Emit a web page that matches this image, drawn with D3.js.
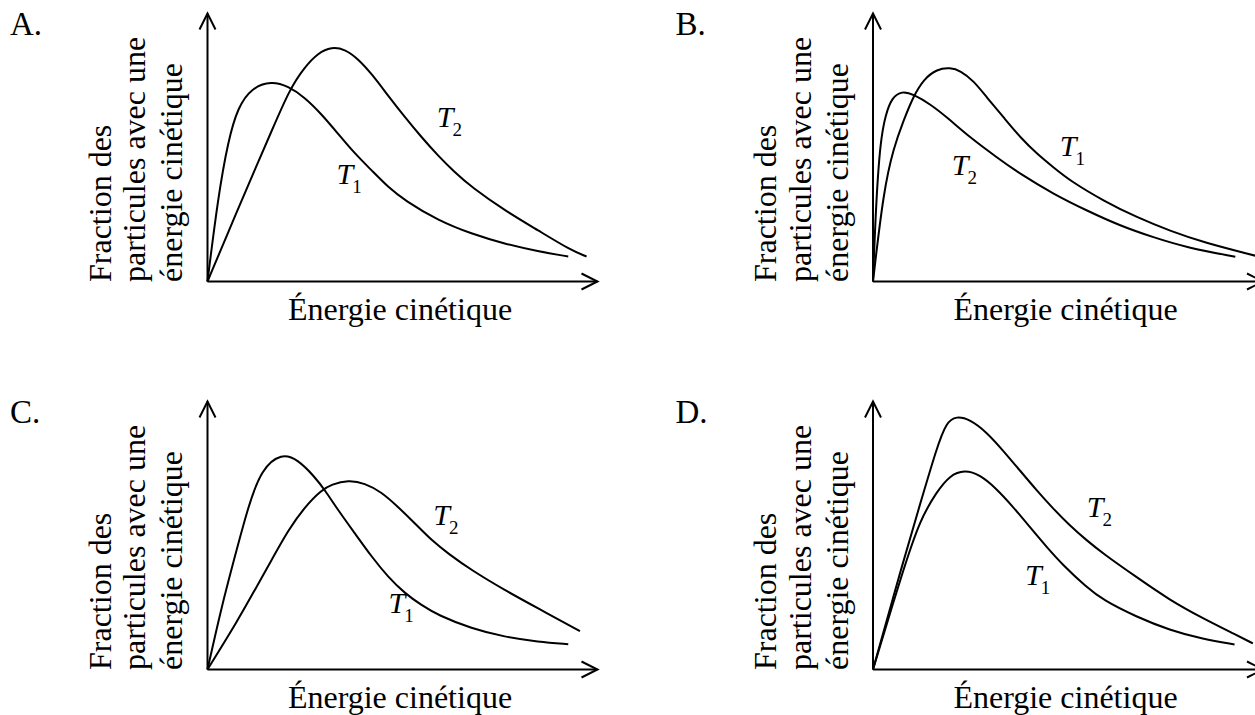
<!DOCTYPE html>
<html>
<head>
<meta charset="utf-8">
<script src="https://cdn.jsdelivr.net/npm/d3@7"></script>
<style>
  html, body { margin: 0; padding: 0; background: #fff; }
  svg { display: block; }
  text { font-family: "Liberation Serif", "Times New Roman", serif; fill: #000; }
</style>
</head>
<body>
<svg id="chart" width="1255" height="715"></svg>
<script>
// ---------- DATA (energy, fraction) ----------
const panelLetters = ["A.", "B.", "C.", "D."];
const xTitle = "Énergie cinétique";
const yTitleLines = ["Fraction des", "particules avec une", "énergie cinétique"];
const seriesNames = ["T1", "T2"];

// Panel A
const A_T1 = [[0,0],[0.27,3.13],[0.53,5.24],[0.78,6.48],[1.13,7.20],[1.64,7.45],[2.07,7.26],[2.49,6.85],[2.92,6.23],[3.35,5.49],[3.78,4.75],[4.21,4.13],[4.63,3.51],[5.06,3.01],[5.91,2.27],[6.77,1.77],[7.62,1.40],[8.48,1.12],[9.25,0.93]];
const A_T2 = [[0,0],[0.78,2.69],[1.21,4.14],[1.64,5.58],[2.11,7.16],[2.49,7.97],[2.84,8.50],[3.18,8.72],[3.52,8.64],[3.86,8.28],[4.21,7.72],[4.63,6.91],[5.06,6.11],[5.49,5.36],[5.91,4.68],[6.34,4.06],[6.77,3.51],[7.62,2.64],[8.48,1.90],[9.33,1.15],[9.72,0.93]];
// Panel B
const B_T1 = [[0,0],[0.27,3.37],[0.53,4.98],[0.78,5.97],[1.04,6.90],[1.30,7.52],[1.64,7.90],[1.98,7.95],[2.24,7.84],[2.58,7.46],[2.92,6.84],[3.35,6.10],[3.78,5.35],[4.21,4.74],[4.63,4.24],[5.06,3.74],[5.91,3.00],[6.77,2.38],[7.62,1.88],[8.48,1.45],[9.80,0.96]];
const B_T2 = [[0,0],[0.08,3.0],[0.19,5.23],[0.32,6.20],[0.49,6.85],[0.74,7.08],[1.04,6.96],[1.47,6.59],[1.90,6.10],[2.49,5.35],[3.18,4.61],[3.78,3.99],[4.63,3.25],[5.49,2.63],[6.34,2.07],[7.19,1.64],[8.05,1.26],[9.29,0.92]];
// Panel C
const C_T1 = [[0,0],[0.36,2.33],[0.70,4.19],[1.04,6.04],[1.38,7.45],[1.90,8.05],[2.32,7.80],[2.75,7.16],[3.01,6.67],[3.35,5.92],[3.78,5.06],[4.21,4.19],[4.63,3.44],[5.06,2.83],[5.49,2.39],[5.91,2.02],[6.77,1.52],[7.62,1.21],[8.48,1.03],[9.25,0.94]];
const C_T2 = [[0,0],[0.78,1.83],[1.21,2.95],[1.64,4.06],[2.07,5.18],[2.49,6.04],[2.92,6.67],[3.18,6.88],[3.61,7.04],[4.03,6.93],[4.46,6.60],[4.89,6.04],[5.32,5.43],[5.74,4.81],[6.17,4.31],[6.77,3.69],[7.62,2.95],[8.48,2.27],[9.55,1.43]];
// Panel D
const D_T1 = [[0,0],[0.77,3.69],[1.20,5.55],[1.63,6.60],[1.97,7.22],[2.35,7.42],[2.74,7.24],[3.16,6.73],[3.59,6.05],[4.02,5.30],[4.45,4.56],[4.87,3.88],[5.47,3.07],[5.90,2.58],[6.75,1.96],[7.61,1.46],[8.46,1.13],[9.27,0.93]];
const D_T2 = [[0,0],[0.77,4.00],[1.20,6.11],[1.63,8.22],[1.88,9.20],[2.14,9.42],[2.48,9.30],[2.91,8.83],[3.33,8.15],[3.76,7.41],[4.19,6.67],[4.62,5.98],[5.04,5.36],[5.47,4.81],[5.90,4.31],[6.75,3.44],[7.61,2.58],[8.46,1.90],[9.32,1.28],[9.74,0.97]];

const curvesByPanel = [[A_T1, A_T2], [B_T1, B_T2], [C_T1, C_T2], [D_T1, D_T2]];
// label anchors (energy, fraction) for T1, T2 per panel
const labelT1 = [[3.31,3.64],[4.79,4.67],[4.64,2.11],[3.90,3.14]];
const labelT2 = [[5.88,5.75],[2.02,3.96],[5.79,5.37],[5.48,5.68]];

// ---------- LAYOUT ----------
const origins = [[207.5, 281.5], [873, 281.5], [207.5, 669.5], [873, 669.5]];
const W = 390, H = 268;

const svg = d3.select("#chart");

curvesByPanel.forEach((curves, i) => {
  const [ox, oy] = origins[i];
  const g = svg.append("g").attr("transform", `translate(${ox},${oy})`);
  const x = d3.scaleLinear().domain([0, 10]).range([0, W]);
  const y = d3.scaleLinear().domain([0, 10]).range([0, -269]);

  // axes
  const ax = g.append("g").attr("stroke", "#000").attr("stroke-width", 2).attr("fill", "none");
  ax.append("line").attr("x1", 0).attr("y1", 0).attr("x2", 0).attr("y2", -H);
  ax.append("path").attr("d", `M-8,${-H + 16}L0,${-H}L8,${-H + 16}`);
  ax.append("line").attr("x1", 0).attr("y1", 0).attr("x2", W).attr("y2", 0);
  ax.append("path").attr("d", `M${W - 16},-8L${W},0L${W - 16},8`);

  // curves
  const line = d3.line().x(d => x(d[0])).y(d => y(d[1])).curve(d3.curveBasis);
  curves.forEach(c => {
    g.append("path").attr("d", line(c)).attr("fill", "none").attr("stroke", "#000").attr("stroke-width", 2);
  });

  // T labels
  [[labelT1[i], "1"], [labelT2[i], "2"]].forEach(([p, sub]) => {
    const t = g.append("text").attr("x", x(p[0])).attr("y", y(p[1])).style("font-size", "30px");
    t.append("tspan").style("font-style", "italic").text("T");
    t.append("tspan").attr("dy", 9).attr("dx", -1).style("font-size", "19px").text(sub);
  });

  // panel letter
  g.append("text").attr("x", -197.5).attr("y", -246.5).style("font-size", "33px").text(panelLetters[i]);

  // x title
  g.append("text").attr("x", 192.5).attr("y", 38.5).attr("text-anchor", "middle")
    .style("font-size", "32px").text(xTitle);

  // y title (rotated)
  const yBase = [-97, -62.5, -25.5];
  yTitleLines.forEach((s, k) => {
    g.append("text").attr("transform", `translate(${yBase[k]},0.5) rotate(-90)`)
      .attr("text-anchor", "start").style("font-size", "32px").text(s);
  });
});
</script>
</body>
</html>
